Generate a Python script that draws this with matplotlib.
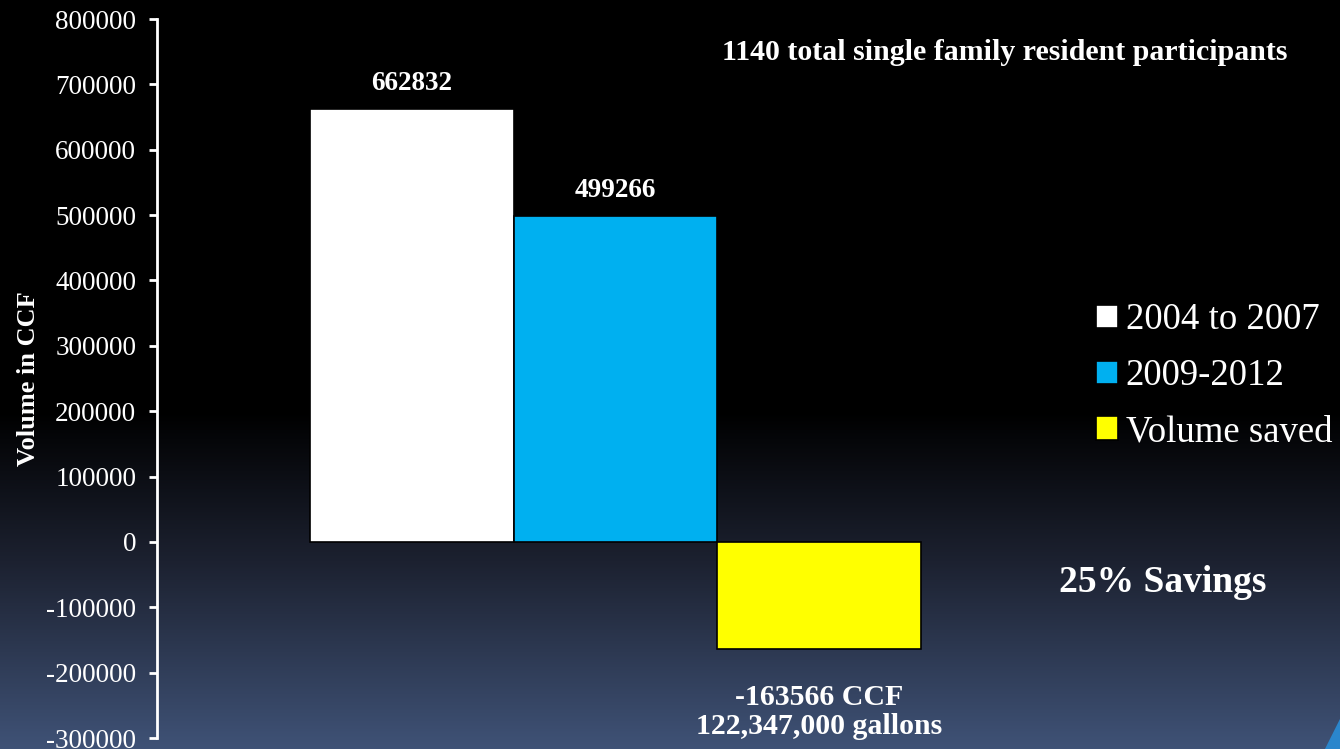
import numpy as np
import matplotlib.pyplot as plt
from matplotlib.colors import LinearSegmentedColormap
from matplotlib.patches import Polygon

plt.rcParams['font.family'] = ['Liberation Serif', 'DejaVu Serif']

# data
periods = ['2004 to 2007', '2009-2012', 'Volume saved']
volumes = [662832, 499266, -163566]
bar_colors = ['#ffffff', '#00b0f0', '#ffff00']
value_labels = ['662832', '499266', '-163566 CCF\n122,347,000 gallons']
yticks = np.arange(-300000, 800001, 100000)

fig = plt.figure(figsize=(13.4, 7.49), dpi=100)

# background gradient
bg = fig.add_axes([0, 0, 1, 1], zorder=-10)
bg_cmap = LinearSegmentedColormap.from_list(
    'bg', [(0.0, '#000000'), (0.55, '#000000'), (0.75, '#1c2130'), (1.0, '#3f5276')])
grad = np.linspace(0, 1, 256).reshape(-1, 1)
bg.imshow(grad, aspect='auto', cmap=bg_cmap, extent=[0, 1, 0, 1], origin='upper')
bg.set_axis_off()
# little corner decoration
fig.patches.append(Polygon([[0.9885, 0], [1, 0], [1, 0.04]], closed=True,
                           transform=fig.transFigure, color='#2a86cc', zorder=-5))

ax = fig.add_axes([157 / 1340, 1 - 738 / 749, (1070 - 157) / 1340, (738 - 19) / 749])
ax.patch.set_alpha(0)

x = np.arange(len(volumes))
bars = ax.bar(x, volumes, width=1.0, color=bar_colors, edgecolor='black',
              linewidth=1.2)

ax.set_xlim(-1.253, 3.233)
ax.set_ylim(-300000, 800000)
ax.set_yticks(yticks)
ax.set_yticklabels([str(v) for v in yticks])
ax.set_xticks([])

for s in ['top', 'right', 'bottom']:
    ax.spines[s].set_visible(False)
ax.spines['left'].set_color('white')
ax.spines['left'].set_linewidth(2)
ax.tick_params(axis='y', colors='white', labelsize=19.5, length=6, width=2, pad=9)

ax.set_ylabel('Volume in CCF', color='white', fontsize=19, fontweight='bold', labelpad=4)

# value labels
ax.text(x[0], volumes[0] + 38000, value_labels[0], ha='center', va='center',
        color='white', fontsize=19.5, fontweight='bold')
ax.text(x[1], volumes[1] + 38000, value_labels[1], ha='center', va='center',
        color='white', fontsize=19.5, fontweight='bold')
ax.text(x[2], volumes[2] - 96000, value_labels[2], ha='center', va='center',
        color='white', fontsize=21.5, fontweight='bold', linespacing=1.1)

fig.text(1005 / 1340, 1 - 52 / 749, '1140 total single family resident participants',
         ha='center', va='center', color='white', fontsize=21.5, fontweight='bold')
fig.text(1163 / 1340, 1 - 582 / 749, '25% Savings', ha='center', va='center',
         color='white', fontsize=27, fontweight='bold')

leg = fig.legend(handles=list(bars), labels=periods, loc='center left',
                 bbox_to_anchor=(1078 / 1340, 1 - 376 / 749), frameon=False,
                 fontsize=26.5, handlelength=0.6, handleheight=0.6, handletextpad=0.2,
                 labelspacing=0.58, borderpad=0)
for t in leg.get_texts():
    t.set_color('white')

fig.savefig('out.png', dpi=100, facecolor='black')
